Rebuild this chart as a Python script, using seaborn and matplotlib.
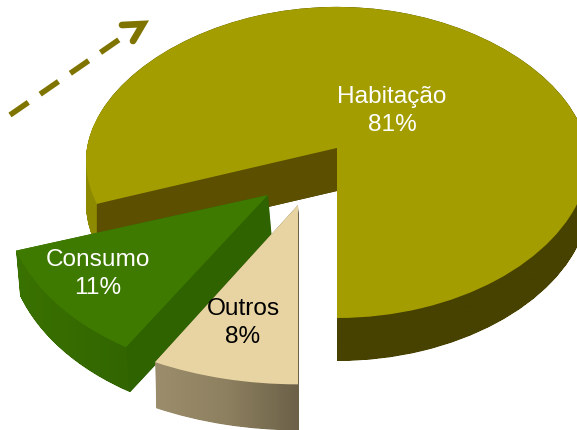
import numpy as np
import matplotlib
matplotlib.use("Agg")
import matplotlib.pyplot as plt
import seaborn as sns
from matplotlib.colors import LinearSegmentedColormap
from matplotlib.patches import PathPatch
from matplotlib.path import Path
from matplotlib.transforms import Affine2D, IdentityTransform, Transform

labels = ["Habitação", "Consumo", "Outros"]
values = [81, 11, 8]

top_colors = ["#a39d00", "#3f7a00", "#e8d4a2"]
label_colors = ["white", "white", "black"]
wall_colors = ["#5c4f00", "#2f6300", None]
side_stops = [
    [(0, "#8e8a00"), (0.02, "#8e8a00"), (0.04, "#474200"), (1, "#474200")],
    [(0, "#3a7200"), (0.6, "#2f6000"), (1, "#2f6000")],
    [(0, "#9c8e6c"), (0.5, "#8d8060"), (1, "#6c6148")],
]

# picture pixels, one slice each
apex_px = [(337, 148), (268, 195), (298, 205)]
start_angles = [270, 198, 241.2]
radii = [1.0, 1.06, 1.055]
x_stretch = [1.0, 1.0, 1.125]
depth_px = [43, 45, 46]
side_shift_px = [0, 4, 1]
label_px = [(392, 111), (98, 274), (243, 323)]

arrow_line_px = ([10, 120], [115, 39])
arrow_head_px = ([122, 143, 133], [25, 24, 41])

W, H = 577, 430
RX, RY = 250, 170
CX, CY = 337, 148


def ux(x):
    return (np.asarray(x, dtype=float) - CX) / RX


def uy(y):
    return (CY - np.asarray(y, dtype=float)) / RY


class Tilt(Transform):
    # rough perspective for the big slice: far half flatter, near half wider
    input_dims = 2
    output_dims = 2

    def transform_non_affine(self, v):
        v = np.asarray(v, dtype=float)
        x, y = v[:, 0], v[:, 1]
        new_y = np.where(y > 0, y * 0.83, y * (0.83 + 0.17 * np.abs(y)))
        new_x = x * (1 - 0.09 * y)
        return np.column_stack([new_x, new_y])


sns.set_theme(style="white")
plt.rcParams["font.family"] = ["Liberation Sans", "DejaVu Sans"]

fig = plt.figure(figsize=(W / 100, H / 100), dpi=100)
ax = fig.add_axes([0, 0, 1, 1])

z = 1
for i in range(len(values)):
    frac = values[i] / 100
    ax_x, ax_y = ux(apex_px[i][0]), uy(apex_px[i][1])
    depth = depth_px[i] / RY
    shift = side_shift_px[i] / RX

    wedges, _ = ax.pie([frac], normalize=False, startangle=start_angles[i], radius=radii[i],
                       colors=[top_colors[i]], wedgeprops={"linewidth": 0})
    top = wedges[0]
    path = top.get_path()
    warp = Tilt() if i == 0 else IdentityTransform()
    to_place = Affine2D().scale(x_stretch[i], 1).translate(ax_x, ax_y)
    top.set_transform(warp + to_place + ax.transData)

    # side = the top shape pushed down, used as a clip for a gradient
    placed = to_place.transform_path(warp.transform_path(path))
    layers = [placed.transformed(Affine2D().translate(t * shift, -t * depth))
              for t in np.linspace(0, 1, 70)]
    side_path = Path.make_compound_path(*layers)
    clip = PathPatch(side_path, transform=ax.transData, facecolor="none", edgecolor="none")
    ax.add_patch(clip)
    x0, y0, x1, y1 = side_path.get_extents().extents
    cmap = LinearSegmentedColormap.from_list("side%d" % i, side_stops[i])
    im = ax.imshow(np.linspace(0, 1, 256)[None, :], cmap=cmap, extent=(x0, x1, y0, y1),
                   aspect="auto", zorder=z, interpolation="bilinear")
    im.set_clip_path(clip)
    z += 1

    # flat wall under the first cut edge
    if wall_colors[i]:
        end = np.deg2rad(start_angles[i] + 360 * frac)
        corner = np.array([[radii[i] * np.cos(end), radii[i] * np.sin(end)]])
        ex, ey = to_place.transform(warp.transform(corner))[0]
        ax.fill([ax_x, ex, ex + shift, ax_x + shift], [ax_y, ey, ey - depth, ax_y - depth],
                color=wall_colors[i], linewidth=0, zorder=z)
        z += 1

    top.set_zorder(z)
    z += 1

arrow_color = "#7f7400"
ax.plot(ux(arrow_line_px[0]), uy(arrow_line_px[1]), color=arrow_color, lw=4,
        dashes=(4, 2.6), dash_capstyle="butt", zorder=z)
ax.plot(ux(arrow_head_px[0]), uy(arrow_head_px[1]), color=arrow_color, lw=4.8,
        solid_joinstyle="miter", solid_capstyle="round", zorder=z)

for i in range(len(labels)):
    ax.text(ux(label_px[i][0]), uy(label_px[i][1]), "%s\n%d%%" % (labels[i], values[i]),
            color=label_colors[i], fontsize=17.6, ha="center", va="center",
            linespacing=1.3, zorder=z + 1)

ax.set_aspect("auto")
ax.set_xlim(ux(0), ux(W))
ax.set_ylim(uy(H), uy(0))
ax.axis("off")

fig.savefig("out.png", dpi=100)
